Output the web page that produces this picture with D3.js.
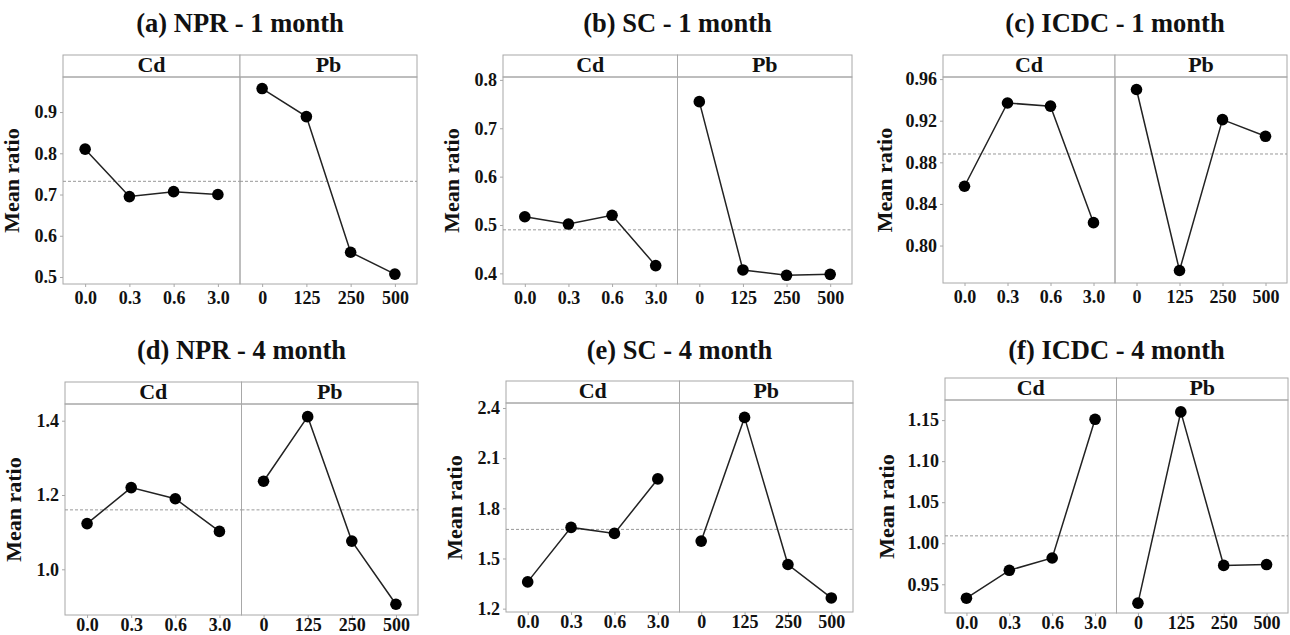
<!DOCTYPE html>
<html lang="en">
<head>
    <meta charset="UTF-8">
    <title>Mean ratio</title>
    <style>
        body { margin: 0; background: #fff; }
        text { font-family: "Liberation Serif", "Times New Roman", serif; font-weight: bold; fill: #111; }
    </style>
</head>
<body>
    <script src="https://cdn.jsdelivr.net/npm/d3@7"></script>
    <script>
        // categories of the two facets
        const cdLevels = ['0.0', '0.3', '0.6', '3.0']
        const pbLevels = ['0', '125', '250', '500']
        const facets = ['Cd', 'Pb']

        // panel titles
        const titles = ['(a) NPR - 1 month', '(b) SC - 1 month', '(c) ICDC - 1 month',
                        '(d) NPR - 4 month', '(e) SC - 4 month', '(f) ICDC - 4 month']

        // mean ratio values
        const cdValues = [
            [0.810, 0.695, 0.707, 0.700],
            [0.517, 0.502, 0.520, 0.416],
            [0.857, 0.937, 0.934, 0.822],
            [1.123, 1.220, 1.190, 1.102],
            [1.360, 1.686, 1.650, 1.976],
            [0.933, 0.967, 0.982, 1.151]
        ]
        const pbValues = [
            [0.957, 0.889, 0.560, 0.507],
            [0.755, 0.407, 0.396, 0.398],
            [0.950, 0.776, 0.921, 0.905],
            [1.237, 1.411, 1.076, 0.906],
            [1.604, 2.344, 1.464, 1.264],
            [0.927, 1.160, 0.973, 0.974]
        ]
        // overall mean (dashed line)
        const grandMeans = [0.732, 0.490, 0.888, 1.160, 1.674, 1.009]

        // y tick labels
        const yTicks = [
            ['0.5', '0.6', '0.7', '0.8', '0.9'],
            ['0.4', '0.5', '0.6', '0.7', '0.8'],
            ['0.80', '0.84', '0.88', '0.92', '0.96'],
            ['1.0', '1.2', '1.4'],
            ['1.2', '1.5', '1.8', '2.1', '2.4'],
            ['0.95', '1.00', '1.05', '1.10', '1.15']
        ]
        // y ranges shown
        const yDomains = [
            [0.483, 0.985], [0.378, 0.806], [0.764, 0.962],
            [0.877, 1.445], [1.18, 2.43], [0.915, 1.1745]
        ]

        // layout of each panel: left, right, strip top, plot bottom
        const boxes = [
            [63, 417, 55, 284], [503, 852, 55, 284], [943, 1287, 55, 283],
            [65, 418, 382, 615], [506, 853, 381, 612], [945, 1288, 378, 613]
        ]
        const titleY = [32, 32, 32, 359, 359, 359]
        const stripH = 22
        const gris = '#a8a8a8'

        const svg = d3.select('body').append('svg')
            .attr('width', 1290)
            .attr('height', 635)

        titles.forEach((titre, i) => {
            const [x0, x1, top, bottom] = boxes[i]
            const plotTop = top + stripH
            const mid = (x0 + x1) / 2
            const g = svg.append('g')

            // y scale
            const y = d3.scaleLinear().domain(yDomains[i]).range([bottom, plotTop])

            // title
            g.append('text')
                .attr('x', mid)
                .attr('y', titleY[i])
                .attr('text-anchor', 'middle')
                .attr('font-size', 26.5)
                .text(titre)

            // two facets
            const facetData = [cdValues[i], pbValues[i]]
            const facetLevels = [cdLevels, pbLevels]
            facets.forEach((f, k) => {
                const fx0 = k === 0 ? x0 : mid
                const fx1 = k === 0 ? mid : x1
                const x = d3.scalePoint().domain(facetLevels[k]).range([fx0, fx1]).padding(0.5)

                // strip
                g.append('rect')
                    .attr('x', fx0).attr('y', top)
                    .attr('width', fx1 - fx0).attr('height', stripH)
                    .attr('fill', '#fff').attr('stroke', gris)
                g.append('text')
                    .attr('x', (fx0 + fx1) / 2)
                    .attr('y', top + stripH - 5)
                    .attr('text-anchor', 'middle')
                    .attr('font-size', 22)
                    .text(f)

                // panel
                g.append('rect')
                    .attr('x', fx0).attr('y', plotTop)
                    .attr('width', fx1 - fx0).attr('height', bottom - plotTop)
                    .attr('fill', 'none').attr('stroke', gris)

                // x axis (second row sits on the bottom edge, keep labels inside)
                const ax = g.append('g')
                    .attr('transform', `translate(0,${bottom})`)
                    .call(d3.axisBottom(x).tickSize(3).tickPadding(i < 3 ? 4 : 0))
                ax.select('.domain').remove()
                ax.selectAll('line').attr('stroke', gris)
                ax.selectAll('text').attr('font-size', 18).attr('fill', '#111')

                // dashed mean line
                g.append('line')
                    .attr('x1', fx0).attr('x2', fx1)
                    .attr('y1', y(grandMeans[i])).attr('y2', y(grandMeans[i]))
                    .attr('stroke', '#999')
                    .attr('stroke-dasharray', '3,2')

                // line + points
                const pts = facetLevels[k].map((lv, j) => [lv, facetData[k][j]])
                g.append('path')
                    .datum(pts)
                    .attr('fill', 'none')
                    .attr('stroke', '#222')
                    .attr('stroke-width', 1.5)
                    .attr('d', d3.line().x(d => x(d[0])).y(d => y(d[1])))
                g.selectAll(null)
                    .data(pts)
                    .enter()
                    .append('circle')
                    .attr('cx', d => x(d[0]))
                    .attr('cy', d => y(d[1]))
                    .attr('r', 5.8)
                    .attr('fill', '#000')
            })

            // y axis
            const ay = g.append('g')
                .attr('transform', `translate(${x0},0)`)
                .call(d3.axisLeft(y).tickValues(yTicks[i].map(Number)).tickFormat((d, j) => yTicks[i][j]).tickSize(3).tickPadding(3))
            ay.select('.domain').remove()
            ay.selectAll('line').attr('stroke', gris)
            ay.selectAll('text').attr('font-size', 18).attr('fill', '#111')

            // y label
            const lx = x0 - (yTicks[i][0].length > 3 ? 51 : 44)
            g.append('text')
                .attr('transform', `translate(${lx},${(plotTop + bottom) / 2}) rotate(-90)`)
                .attr('text-anchor', 'middle')
                .attr('font-size', 22)
                .text('Mean ratio')
        })
    </script>
</body>
</html>
